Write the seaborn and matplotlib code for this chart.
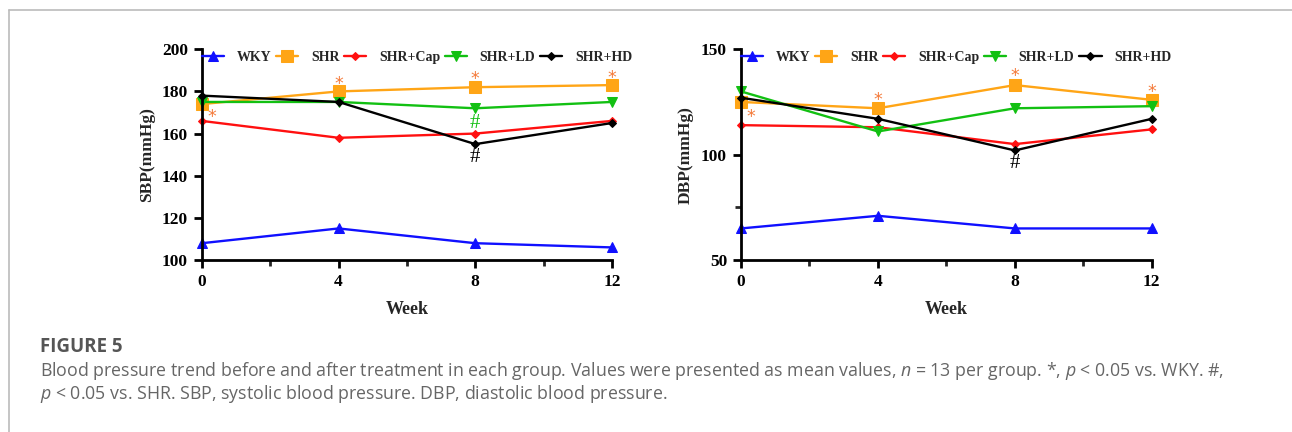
import numpy as np
import pandas as pd
import matplotlib.pyplot as plt
import seaborn as sns

WEEKS = [0, 4, 8, 12]
GROUPS = ["WKY", "SHR", "SHR+Cap", "SHR+LD", "SHR+HD"]

sbp = {
    "WKY": [108, 115, 108, 106],
    "SHR": [174, 180, 182, 183],
    "SHR+Cap": [166, 158, 160, 166],
    "SHR+LD": [175, 175, 172, 175],
    "SHR+HD": [178, 175, 155, 165],
}
dbp = {
    "WKY": [65, 71, 65, 65],
    "SHR": [125, 122, 133, 126],
    "SHR+Cap": [114, 113, 105, 112],
    "SHR+LD": [130, 111, 122, 123],
    "SHR+HD": [127, 117, 102, 117],
}

# significance marks: (week, value, symbol, colour)
sbp_marks = [(0.3, 168, "*", "orange"), (4, 183.5, "*", "orange"), (8, 186, "*", "orange"),
             (12, 186.5, "*", "orange"), (8, 165, "#", "green"), (8, 148.5, "#", "black")]
dbp_marks = [(0.3, 118, "*", "orange"), (4, 126, "*", "orange"), (8, 137.5, "*", "orange"),
             (12, 129.5, "*", "orange"), (8, 96, "#", "black")]

COLORS = {"WKY": "#1010ff", "SHR": "#ffa516", "SHR+Cap": "#ff1010",
          "SHR+LD": "#12c012", "SHR+HD": "#000000"}
MARKERS = {"WKY": "^", "SHR": "s", "SHR+Cap": "D", "SHR+LD": "v", "SHR+HD": "D"}
SIZES = {"WKY": 7, "SHR": 8.5, "SHR+Cap": 4.5, "SHR+LD": 7, "SHR+HD": 4.5}
MARK_COLORS = {"orange": "#f47a3a", "green": "#12c012", "black": "#000000"}

sns.set_style("white")
plt.rcParams["font.family"] = ["Liberation Serif", "DejaVu Serif"]
plt.rcParams["mathtext.fontset"] = "custom"
plt.rcParams["mathtext.it"] = "Open Sans:italic"
plt.rcParams["mathtext.rm"] = "Open Sans"


def to_long(d):
    rows = []
    for g in GROUPS:
        for w, v in zip(WEEKS, d[g]):
            rows.append({"Week": w, "value": v, "group": g})
    return pd.DataFrame(rows)


def draw(ax, d, ylabel, ylim, yticks, yminor, marks):
    df = to_long(d)
    for g in GROUPS:
        sns.lineplot(data=df[df.group == g], x="Week", y="value", ax=ax,
                     color=COLORS[g], marker=MARKERS[g], markersize=SIZES[g],
                     markeredgecolor=COLORS[g], linewidth=1.7, label=g)
    ax.set_xlim(0, 12)
    ax.set_ylim(*ylim)
    ax.set_xticks(WEEKS)
    ax.set_xticks([2, 6, 10], minor=True)
    ax.set_yticks(yticks)
    ax.set_yticks(yminor, minor=True)
    ax.tick_params(axis="both", which="major", direction="out", length=6, width=2,
                   labelsize=12.5, colors="black", bottom=True, left=True, pad=4)
    ax.tick_params(axis="both", which="minor", direction="out", length=4, width=2,
                   bottom=True, left=True)
    for lab in ax.get_xticklabels() + ax.get_yticklabels():
        lab.set_fontweight("bold")
    sns.despine(ax=ax)
    for s in ["left", "bottom"]:
        ax.spines[s].set_linewidth(2)
        ax.spines[s].set_color("black")
    for a in ax.lines:
        a.set_clip_on(False)
    ax.set_xlabel("Week", fontsize=13, fontweight="bold", labelpad=8)
    ax.set_ylabel(ylabel, fontsize=12.5, fontweight="bold", labelpad=5)
    ax.legend(loc="upper left", ncol=5, frameon=False,
              bbox_to_anchor=(0.0, 0.99), handlelength=1.6, handletextpad=0.9,
              columnspacing=0.35, borderaxespad=0, borderpad=0,
              prop={"weight": "bold", "size": 10})
    for w, v, sym, c in marks:
        if sym == "*":
            ax.text(w, v, sym, color=MARK_COLORS[c], ha="center", va="center",
                    fontsize=12.5, family="DejaVu Sans")
        else:
            ax.text(w, v, sym, color=MARK_COLORS[c], ha="center", va="center",
                    fontsize=15)


fig = plt.figure(figsize=(12.92, 4.32), dpi=100)
ax1 = fig.add_axes([0.1563, 0.398, 0.3173, 0.488])
ax2 = fig.add_axes([0.5735, 0.398, 0.318, 0.488])

draw(ax1, sbp, "SBP(mmHg)", (100, 200), [100, 120, 140, 160, 180, 200], [], sbp_marks)
draw(ax2, dbp, "DBP(mmHg)", (50, 150), [50, 100, 150], [75, 125], dbp_marks)

# frame like the article figure box
fig.add_artist(plt.Line2D([9 / 1292, 1], [1 - 10 / 432, 1 - 10 / 432], color="#bbbbbb", lw=1.2))
fig.add_artist(plt.Line2D([9 / 1292, 9 / 1292], [0, 1 - 10 / 432], color="#bbbbbb", lw=1.2))

fig.text(40 / 1292, 1 - 347 / 432, "FIGURE 5", family="Open Sans", fontsize=13.5,
         fontweight="bold", color="#555555", va="center")
fig.text(40 / 1292, 1 - 371 / 432,
         "Blood pressure trend before and after treatment in each group. Values were presented as mean values, "
         "$n$ = 13 per group. *, $p$ < 0.05 vs. WKY. #,",
         family="Open Sans", fontsize=12.8, color="#666666", va="center")
fig.text(40 / 1292, 1 - 394 / 432,
         "$p$ < 0.05 vs. SHR. SBP, systolic blood pressure. DBP, diastolic blood pressure.",
         family="Open Sans", fontsize=12.8, color="#666666", va="center")

fig.savefig("out.png", dpi=100)
